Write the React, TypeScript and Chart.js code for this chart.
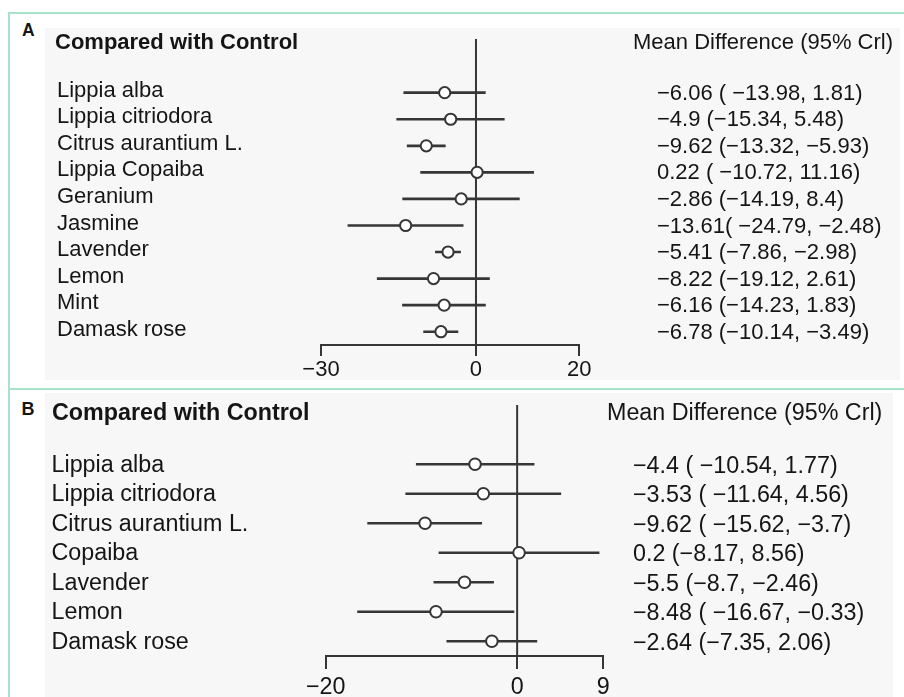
import React, { useEffect, useRef } from "react";
import { Chart, registerables } from "chart.js";

Chart.register(...registerables);

// ---------- DATA ----------
const namesA = [
  "Lippia alba",
  "Lippia citriodora",
  "Citrus aurantium L.",
  "Lippia Copaiba",
  "Geranium",
  "Jasmine",
  "Lavender",
  "Lemon",
  "Mint",
  "Damask rose",
];
const meanA = [-6.06, -4.9, -9.62, 0.22, -2.86, -13.61, -5.41, -8.22, -6.16, -6.78];
const lowA = [-13.98, -15.34, -13.32, -10.72, -14.19, -24.79, -7.86, -19.12, -14.23, -10.14];
const highA = [1.81, 5.48, -5.93, 11.16, 8.4, -2.48, -2.98, 2.61, 1.83, -3.49];
const textA = [
  "−6.06 ( −13.98, 1.81)",
  "−4.9 (−15.34, 5.48)",
  "−9.62 (−13.32, −5.93)",
  "0.22 ( −10.72, 11.16)",
  "−2.86 (−14.19, 8.4)",
  "−13.61( −24.79, −2.48)",
  "−5.41 (−7.86, −2.98)",
  "−8.22 (−19.12, 2.61)",
  "−6.16 (−14.23, 1.83)",
  "−6.78 (−10.14, −3.49)",
];
const ticksA = [-30, 0, 20];

const namesB = [
  "Lippia alba",
  "Lippia citriodora",
  "Citrus aurantium L.",
  "Copaiba",
  "Lavender",
  "Lemon",
  "Damask rose",
];
const meanB = [-4.4, -3.53, -9.62, 0.2, -5.5, -8.48, -2.64];
const lowB = [-10.54, -11.64, -15.62, -8.17, -8.7, -16.67, -7.35];
const highB = [1.77, 4.56, -3.7, 8.56, -2.46, -0.33, 2.06];
const textB = [
  "−4.4 ( −10.54, 1.77)",
  "−3.53 ( −11.64, 4.56)",
  "−9.62 ( −15.62, −3.7)",
  "0.2 (−8.17, 8.56)",
  "−5.5 (−8.7, −2.46)",
  "−8.48 ( −16.67, −0.33)",
  "−2.64 (−7.35, 2.06)",
];
const ticksB = [-20, 0, 9];

const headerLeft = "Compared with Control";
const headerRight = "Mean Difference (95% Crl)";

// ---------- STYLE ----------
const FONT = '"Liberation Sans", Arial, Helvetica, sans-serif';
const LINE = "#363636";
const TEXT = "#151515";
const TEAL = "#a8e3c9";
const PANEL_BG = "#f7f7f7";

type PanelCfg = {
  names: string[];
  means: number[];
  lows: number[];
  highs: number[];
  texts: string[];
  ticks: number[];
  left: number;
  top: number;
  width: number;
  height: number;
  padTop: number;
  padLeft: number;
  leftW: number;
  rightW: number;
  axisH: number;
  fs: number;
  rightPad: number;
  tl: number;
  tickPad: number;
  lineTop: number;
  leftOffset: number;
  rightOffset: number;
  r: number;
};

const fmt = (v: number) => String(v).replace("-", "−");

const noVPad = (s: any) => {
  s.paddingTop = 0;
  s.paddingBottom = 0;
};

function ForestPanel({ cfg }: { cfg: PanelCfg }) {
  const ref = useRef<HTMLCanvasElement>(null);
  useEffect(() => {
    const canvas = ref.current!;
    const font = { family: FONT, size: cfg.fs, weight: "normal" as const };

    const zeroLine = {
      id: "zeroLine",
      beforeDatasetsDraw(chart: any) {
        const x = chart.scales.x.getPixelForValue(0);
        const c = chart.ctx;
        c.save();
        c.strokeStyle = LINE;
        c.lineWidth = 2;
        c.beginPath();
        c.moveTo(x, cfg.lineTop);
        c.lineTo(x, chart.chartArea.bottom);
        c.stroke();
        c.restore();
      },
    };

    const chart = new Chart(canvas, {
      type: "bar",
      data: {
        labels: cfg.names,
        datasets: [
          {
            type: "line",
            indexAxis: "y",
            data: cfg.names.map((n, i) => ({ x: cfg.means[i], y: n })),
            showLine: false,
            pointRadius: cfg.r,
            pointBackgroundColor: "#ffffff",
            pointBorderColor: LINE,
            pointBorderWidth: 2,
            order: 1,
            xAxisID: "x",
            yAxisID: "y",
          } as any,
          {
            type: "bar",
            indexAxis: "y",
            data: cfg.names.map((_, i) => [cfg.lows[i], cfg.highs[i]]),
            backgroundColor: LINE,
            barThickness: 2,
            borderWidth: 0,
            borderSkipped: false,
            order: 2,
            xAxisID: "x",
            yAxisID: "y",
          } as any,
        ],
      },
      options: {
        indexAxis: "y",
        responsive: false,
        animation: false,
        events: [],
        layout: { padding: { top: cfg.padTop, left: cfg.padLeft, right: 0, bottom: 0 } },
        plugins: { legend: { display: false }, tooltip: { enabled: false } },
        scales: {
          x: {
            type: "linear",
            position: "bottom",
            min: cfg.ticks[0],
            max: cfg.ticks[cfg.ticks.length - 1],
            afterBuildTicks: (s: any) => {
              s.ticks = cfg.ticks.map((v) => ({ value: v }));
            },
            grid: {
              display: true,
              drawOnChartArea: false,
              drawTicks: true,
              tickLength: cfg.tl,
              color: LINE,
              lineWidth: 2,
            },
            border: { display: true, color: LINE, width: 2 },
            ticks: {
              autoSkip: false,
              maxRotation: 0,
              padding: cfg.tickPad,
              font,
              color: TEXT,
              callback: (v: any) => fmt(Number(v)),
            },
            afterFit: (s: any) => {
              s.height = cfg.axisH;
            },
          },
          y: {
            type: "category",
            position: "left",
            labels: cfg.names,
            offset: true,
            grid: { display: false, drawTicks: false },
            border: { display: false },
            ticks: {
              crossAlign: "far",
              padding: 0,
              labelOffset: cfg.leftOffset,
              autoSkip: false,
              font,
              color: TEXT,
            },
            afterFit: (s: any) => {
              s.width = cfg.leftW;
              noVPad(s);
            },
          },
          y2: {
            type: "category",
            position: "right",
            labels: cfg.texts,
            offset: true,
            grid: { display: false, drawTicks: false },
            border: { display: false },
            ticks: {
              crossAlign: "near",
              padding: cfg.rightPad,
              labelOffset: cfg.rightOffset,
              autoSkip: false,
              font,
              color: TEXT,
            },
            afterFit: (s: any) => {
              s.width = cfg.rightW;
              noVPad(s);
            },
          },
        } as any,
      },
      plugins: [zeroLine],
    });
    return () => chart.destroy();
  }, [cfg]);

  return (
    <canvas
      ref={ref}
      width={cfg.width}
      height={cfg.height}
      style={{
        position: "absolute",
        left: cfg.left,
        top: cfg.top,
        width: cfg.width,
        height: cfg.height,
        background: PANEL_BG,
      }}
    />
  );
}

const cfgA: PanelCfg = {
  names: namesA,
  means: meanA,
  lows: lowA,
  highs: highA,
  texts: textA,
  ticks: ticksA,
  left: 45,
  top: 28,
  width: 855,
  height: 352,
  padTop: 51.4,
  padLeft: 12,
  leftW: 264,
  rightW: 320.7,
  axisH: 35,
  fs: 22,
  rightPad: 77.7,
  tl: 11,
  tickPad: 1,
  lineTop: 11,
  leftOffset: -2,
  rightOffset: 1,
  r: 5.6,
};

const cfgB: PanelCfg = {
  names: namesB,
  means: meanB,
  lows: lowB,
  highs: highB,
  texts: textB,
  ticks: ticksB,
  left: 45,
  top: 393,
  width: 848,
  height: 304,
  padTop: 56.5,
  padLeft: 6.5,
  leftW: 274.2,
  rightW: 289.7,
  axisH: 41,
  fs: 23.3,
  rightPad: 29.7,
  tl: 13,
  tickPad: 5,
  lineTop: 12,
  leftOffset: 1,
  rightOffset: 2,
  r: 5.8,
};

function Txt({ x, y, fs, bold, children }: any) {
  return (
    <div
      style={{
        position: "absolute",
        left: x,
        top: y,
        fontFamily: FONT,
        fontSize: fs,
        lineHeight: `${fs}px`,
        fontWeight: bold ? "bold" : "normal",
        color: TEXT,
        whiteSpace: "nowrap",
      }}
    >
      {children}
    </div>
  );
}

export default function App() {
  return (
    <div
      style={{
        position: "absolute",
        left: 0,
        top: 0,
        width: 904,
        height: 697,
        background: "#ffffff",
        overflow: "hidden",
      }}
    >
      {/* frame lines */}
      <div style={{ position: "absolute", left: 8, top: 12, width: 896, height: 2, background: TEAL }} />
      <div style={{ position: "absolute", left: 8, top: 12, width: 2, height: 685, background: TEAL }} />
      <div style={{ position: "absolute", left: 8, top: 388, width: 896, height: 2, background: TEAL }} />

      <ForestPanel cfg={cfgA} />
      <ForestPanel cfg={cfgB} />

      <Txt x={22} y={22} fs={17.5} bold>A</Txt>
      <Txt x={55} y={30.7} fs={22} bold>{headerLeft}</Txt>
      <Txt x={633} y={30.7} fs={22}>{headerRight}</Txt>

      <Txt x={21.5} y={399.5} fs={18} bold>B</Txt>
      <Txt x={52} y={400.9} fs={23.3} bold>{headerLeft}</Txt>
      <Txt x={607} y={400.9} fs={23.3}>{headerRight}</Txt>
    </div>
  );
}
